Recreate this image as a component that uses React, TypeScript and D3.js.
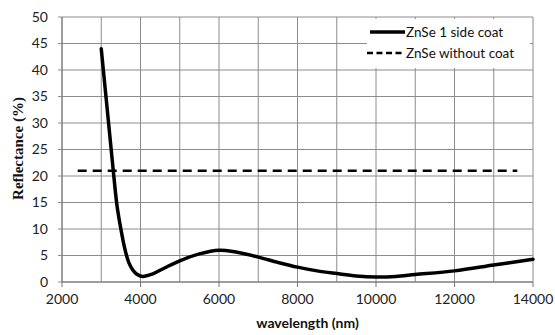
import * as d3 from 'd3';
import React, { useEffect, useRef } from 'react';

// ZnSe reflectance vs wavelength

const coatWavelength = [3000, 3100, 3200, 3300, 3400, 3500, 3600, 3700, 3800, 3900, 4050, 4300, 4600, 5000, 5500, 6000, 6400, 7000, 7500, 8000, 8500, 9000, 9500, 10000, 10500, 11000, 12000, 13000, 14000];
const coatReflectance = [44, 36.5, 29, 21.5, 14.5, 10, 6.3, 3.7, 2.3, 1.5, 1.05, 1.5, 2.6, 4.0, 5.3, 6.0, 5.7, 4.7, 3.7, 2.8, 2.1, 1.6, 1.15, 0.95, 1.05, 1.4, 2.1, 3.2, 4.3];

const noCoatWavelength = [2400, 13600];
const noCoatReflectance = [21, 21];

const xTicks = [2000, 4000, 6000, 8000, 10000, 12000, 14000];
const yTicks = [0, 5, 10, 15, 20, 25, 30, 35, 40, 45, 50];
const legendLabels = ['ZnSe 1 side coat', 'ZnSe without coat'];

export default () => {
    const ref = useRef<any>();

    useEffect(() => {
        const svg = d3.select<any, any>(ref.current);
        svg.selectAll('*').remove();

        const dims = { width: 555, height: 335, left: 62, right: 22, top: 17, bottom: 53 };
        const innerW = dims.width - dims.left - dims.right;
        const innerH = dims.height - dims.top - dims.bottom;

        const x = d3.scaleLinear().domain([2000, 14000]).range([0, innerW]);
        const y = d3.scaleLinear().domain([0, 50]).range([innerH, 0]);

        const g = svg.append('g').attr('transform', `translate(${dims.left},${dims.top})`);
        const font = 'Lato, "Open Sans", sans-serif';

        // grid
        g.append('g').selectAll('line').data(d3.range(2000, 14001, 1000)).enter().append('line')
            .attr('x1', (d: any) => x(d)).attr('x2', (d: any) => x(d))
            .attr('y1', 0).attr('y2', innerH)
            .attr('stroke', '#8c8c8c').attr('stroke-width', 1);
        g.append('g').selectAll('line').data(yTicks).enter().append('line')
            .attr('x1', -4).attr('x2', innerW)
            .attr('y1', (d: any) => y(d)).attr('y2', (d: any) => y(d))
            .attr('stroke', '#8c8c8c').attr('stroke-width', 1);

        // axes lines
        g.append('line').attr('x1', 0).attr('x2', 0).attr('y1', 0).attr('y2', innerH).attr('stroke', '#777');
        g.append('line').attr('x1', 0).attr('x2', innerW).attr('y1', innerH).attr('y2', innerH).attr('stroke', '#777');
        g.append('g').selectAll('line').data(xTicks).enter().append('line')
            .attr('x1', (d: any) => x(d)).attr('x2', (d: any) => x(d))
            .attr('y1', innerH).attr('y2', innerH + 5).attr('stroke', '#777');

        // tick labels
        g.append('g').selectAll('text').data(yTicks).enter().append('text')
            .attr('x', -14).attr('y', (d: any) => y(d)).attr('dy', '0.35em')
            .attr('text-anchor', 'end').attr('font-family', font).attr('font-size', 14)
            .attr('fill', '#222').text((d: any) => d);
        g.append('g').selectAll('text').data(xTicks).enter().append('text')
            .attr('x', (d: any) => x(d)).attr('y', innerH + 22)
            .attr('text-anchor', 'middle').attr('font-family', font).attr('font-size', 14)
            .attr('fill', '#222').text((d: any) => d);

        // axis titles
        g.append('text')
            .attr('x', innerW / 2 + 10).attr('y', innerH + 46)
            .attr('text-anchor', 'middle').attr('font-family', font).attr('font-size', 14)
            .attr('font-weight', 'bold').attr('fill', '#111').text('wavelength (nm)');
        g.append('text')
            .attr('transform', `translate(${-39},${innerH / 2 - 1}) rotate(-90)`)
            .attr('text-anchor', 'middle').attr('font-family', '"Liberation Serif", serif').attr('font-size', 15)
            .attr('font-weight', 'bold').attr('fill', '#111').text('Reflectance (%)');

        // data lines
        const line = d3.line<number>()
            .x((d, i) => x(coatWavelength[i]))
            .y((d) => y(d))
            .curve(d3.curveCatmullRom);
        g.append('path').datum(coatReflectance)
            .attr('d', line as any)
            .attr('fill', 'none').attr('stroke', '#000').attr('stroke-width', 3.5)
            .attr('stroke-linecap', 'round');

        const line2 = d3.line<number>()
            .x((d, i) => x(noCoatWavelength[i]))
            .y((d) => y(d));
        g.append('path').datum(noCoatReflectance)
            .attr('d', line2 as any)
            .attr('fill', 'none').attr('stroke', '#000').attr('stroke-width', 2.5)
            .attr('stroke-dasharray', '9,6');

        // legend
        const lg = svg.append('g').attr('transform', 'translate(367,19)');
        lg.append('rect').attr('x', 0).attr('y', 0).attr('width', 163).attr('height', 49).attr('fill', '#fff');
        legendLabels.forEach((label, i) => {
            const ly = 13 + i * 21;
            lg.append('line').attr('x1', i === 0 ? 3 : 0).attr('x2', 38).attr('y1', ly).attr('y2', ly)
                .attr('stroke', '#000').attr('stroke-width', i === 0 ? 3.5 : 2.5)
                .attr('stroke-dasharray', i === 0 ? null : '6,3.5');
            lg.append('text').attr('x', 39).attr('y', ly).attr('dy', '0.35em')
                .attr('font-family', font).attr('font-size', 13.5).attr('fill', '#111').text(label);
        });
    });

    return (
        <svg ref={ref} width={555} height={335} style={{ position: 'absolute', left: 0, top: 0 }} />
    );
};
